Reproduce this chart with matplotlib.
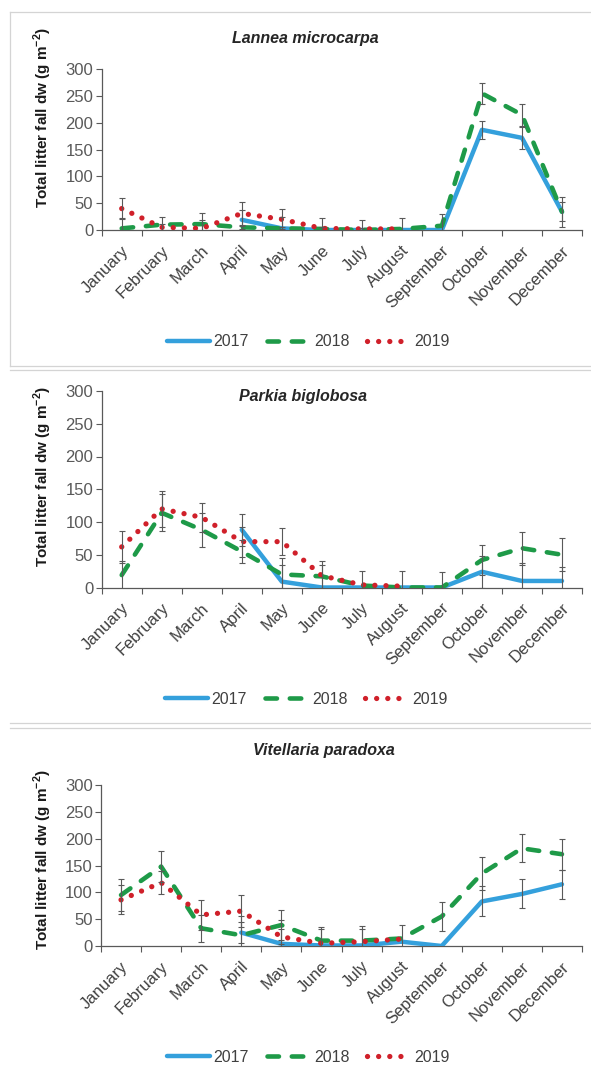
import numpy as np
import matplotlib
matplotlib.use("Agg")
import matplotlib.pyplot as plt
from matplotlib.lines import Line2D
from matplotlib.transforms import ScaledTranslation

plt.rcParams['font.family'] = ['Liberation Sans', 'DejaVu Sans']
plt.rcParams['mathtext.fontset'] = 'custom'
plt.rcParams['mathtext.rm'] = 'Liberation Sans'
plt.rcParams['mathtext.bf'] = 'Liberation Sans:bold'

nan = np.nan
months = ['January', 'February', 'March', 'April', 'May', 'June', 'July',
          'August', 'September', 'October', 'November', 'December']
years = ['2017', '2018', '2019']

# Lannea microcarpa
lannea_2017 = [nan, nan, nan, 19, 3, 0, 0, 0, 0, 187, 172, 34]
lannea_2018 = [3, 10, 11, 5, 3, 2, 0, 2, 8, 255, 215, 34]
lannea_2019 = [40, 5, 3, 31, 20, 3, 2, 2, nan, nan, nan, nan]
lannea_2017_err = [nan, nan, nan, 19, 3, nan, nan, nan, nan, 17, 20, 28]
lannea_2018_err = [19, 15, 21, 3, 22, 20, 18, 20, 22, 19, 20, 18]
lannea_2019_err = [20, 7, 16, 22, 19, 3, 2, nan, nan, nan, nan, nan]

# Parkia biglobosa
parkia_2017 = [nan, nan, nan, 88, 9, 0, 0, 0, 0, 24, 10, 10]
parkia_2018 = [19, 114, 88, 55, 20, 17, 3, 0, 0, 42, 60, 50]
parkia_2019 = [62, 120, 107, 70, 70, 18, 4, 2, nan, nan, nan, nan]
parkia_2017_err = [nan, nan, nan, 24, 25, nan, nan, nan, nan, 24, 27, 22]
parkia_2018_err = [22, 28, 26, 17, 25, 18, 22, 25, 23, 23, 25, 25]
parkia_2019_err = [25, 27, 22, 23, 21, 23, nan, nan, nan, nan, nan, nan]

# Vitellaria paradoxa
vit_2017 = [nan, nan, nan, 25, 4, 1, 1, 8, 0, 83, 97, 115]
vit_2018 = [95, 148, 33, 20, 39, 10, 10, 14, 55, 135, 182, 171]
vit_2019 = [86, 118, 58, 65, 17, 5, 8, 13, nan, nan, nan, nan]
vit_2017_err = [nan, nan, nan, 20, 44, nan, nan, nan, nan, 28, 27, 27]
vit_2018_err = [29, 29, 25, 35, 28, 25, 28, 26, 27, 30, 26, 29]
vit_2019_err = [27, 22, 28, 30, 14, 27, 24, nan, nan, nan, nan, nan]

titles = ['Lannea microcarpa', 'Parkia biglobosa', 'Vitellaria paradoxa']
series = [
    (lannea_2017, lannea_2018, lannea_2019),
    (parkia_2017, parkia_2018, parkia_2019),
    (vit_2017, vit_2018, vit_2019),
]
errors = [
    (lannea_2017_err, lannea_2018_err, lannea_2019_err),
    (parkia_2017_err, parkia_2018_err, parkia_2019_err),
    (vit_2017_err, vit_2018_err, vit_2019_err),
]
yticks = [0, 50, 100, 150, 200, 250, 300]

W, H = 591, 1077
fig = plt.figure(figsize=(W / 100, H / 100), dpi=100)
fig.patch.set_facecolor('white')

layout = [
    dict(ax=(101.7, 582, 69.3, 230), title=(305, 39), ylab=118, leg=(308, 342)),
    dict(ax=(101.7, 582, 391, 587.5), title=(303, 396), ylab=477, leg=(306, 699)),
    dict(ax=(101, 582, 785, 946), title=(324, 750), ylab=860, leg=(308, 1057)),
]

colors = ['#34a0dc', '#1e9a48', '#d0202a']
TEXTC = '#404040'
AXC = '#595959'

def fx(px):
    return px / W

def fy(py):
    return 1 - py / H

frame_c = '#d4d4d4'
for (x0, y0, x1, y1) in [(10, 12, 591, 12), (10, 12, 10, 366), (10, 366, 591, 366),
                         (10, 370, 591, 370), (10, 723, 591, 723), (10, 728, 591, 728)]:
    fig.add_artist(Line2D([fx(x0), fx(x1)], [fy(y0), fy(y1)], color=frame_c, lw=0.9))

x = np.arange(len(months))
for i in range(3):
    L = layout[i]
    l, r, t, b = L['ax']
    ax = fig.add_axes([fx(l), fy(b), fx(r - l), (b - t) / H])
    ax.patch.set_alpha(0)
    ys = series[i]
    es = errors[i]

    ax.plot(x, ys[0], color=colors[0], lw=3.2, solid_capstyle='round', label=years[0], zorder=3)
    ax.errorbar(x, ys[0], yerr=es[0], fmt='none', ecolor=AXC, elinewidth=0.8,
                capsize=2.5, capthick=0.8, zorder=4)
    ax.plot(x, ys[1], color=colors[1], lw=3.3, linestyle=(0, (2.5, 2.8)),
            dash_capstyle='round', label=years[1], zorder=3)
    ax.errorbar(x, ys[1], yerr=es[1], fmt='none', ecolor=AXC, elinewidth=0.8,
                capsize=2.5, capthick=0.8, zorder=4)
    ax.plot(x, ys[2], color=colors[2], lw=3.8, linestyle=(0, (0.01, 2.1)),
            dash_capstyle='round', label=years[2], zorder=3)
    ax.errorbar(x, ys[2], yerr=es[2], fmt='none', ecolor=AXC, elinewidth=0.8,
                capsize=2.5, capthick=0.8, zorder=4)

    ax.set_xlim(-0.5, len(months) - 0.5)
    ax.set_ylim(0, 300)
    ax.set_yticks(yticks)
    ax.tick_params(axis='y', colors=AXC, labelsize=12, length=4, width=0.8, pad=2)
    ax.set_xticks(x)
    ax.set_xticks(np.arange(-0.5, len(months)), minor=True)
    ax.set_xticklabels(months, rotation=45, ha='right', va='center',
                       rotation_mode='anchor', fontsize=12, color=TEXTC)
    ax.tick_params(axis='x', which='major', length=0, pad=13)
    ax.tick_params(axis='x', which='minor', length=4, width=0.8, color=AXC)
    off = ScaledTranslation(5 / 100, 0, fig.dpi_scale_trans)
    for lab in ax.get_xticklabels():
        lab.set_transform(lab.get_transform() + off)
    for s in ['top', 'right']:
        ax.spines[s].set_visible(False)
    for s in ['left', 'bottom']:
        ax.spines[s].set_color(AXC)
        ax.spines[s].set_linewidth(0.9)

    tx, ty = L['title']
    fig.text(fx(tx), fy(ty), titles[i], ha='center', va='center', fontsize=11.5,
             fontweight='bold', style='italic', color='#262626')
    fig.text(fx(43), fy(L['ylab']), r'Total litter fall dw (g m$^{\mathbf{-2}}$)',
             rotation=90, ha='center', va='center', fontsize=11, fontweight='bold',
             color='#1a1a1a')

    lx, ly = L['leg']
    leg = ax.legend(loc='center', bbox_to_anchor=(fx(lx), fy(ly)),
                    bbox_transform=fig.transFigure, ncol=3, frameon=False,
                    fontsize=11.5, handlelength=2.7, handletextpad=0.25,
                    columnspacing=1.1, borderpad=0)
    for txt in leg.get_texts():
        txt.set_color(TEXTC)

fig.savefig('out.png', dpi=100, facecolor='white')
